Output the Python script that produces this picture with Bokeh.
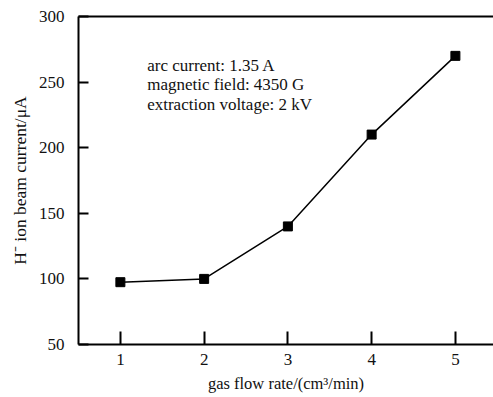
from bokeh.plotting import figure
from bokeh.models import Range1d, FixedTicker, LinearAxis, Label, ColumnDataSource
from bokeh.embed import file_html
from bokeh.resources import INLINE

gas_flow = [1, 2, 3, 4, 5]
beam_current = [97.5, 100, 140, 210, 270]
x_ticks = [1, 2, 3, 4, 5]
y_ticks = [50, 100, 150, 200, 250, 300]
notes = ["arc current: 1.35 A", "magnetic field: 4350 G", "extraction voltage: 2 kV"]
note_y = [262.7, 247.8, 232.9]

FONT = "Liberation Serif"

p = figure(width=493, height=397, output_backend="svg", toolbar_location=None,
           x_range=Range1d(0.5, 5.455), y_range=Range1d(50, 300),
           min_border_left=78, min_border_right=0, min_border_top=16, min_border_bottom=53)
p.grid.visible = False
p.outline_line_color = None
p.background_fill_color = "white"
p.border_fill_color = "white"

for ax in (p.xaxis[0], p.yaxis[0]):
    ax.axis_line_width = 2
    ax.axis_line_color = "black"
    ax.major_tick_line_width = 2
    ax.major_tick_line_color = "black"
    ax.minor_tick_line_color = None
    ax.major_tick_out = 0
    ax.major_label_text_font = FONT
    ax.major_label_text_font_size = "17px"
    ax.major_label_text_color = "#111111"
    ax.axis_label_text_font = FONT
    ax.axis_label_text_font_size = "16.5px"
    ax.axis_label_text_font_style = "normal"
    ax.axis_label_text_color = "#111111"

p.yaxis[0].axis_label_text_font_size = "17.5px"
p.xaxis[0].ticker = FixedTicker(ticks=x_ticks)
p.yaxis[0].ticker = FixedTicker(ticks=y_ticks)
p.xaxis[0].major_tick_in = 13
p.yaxis[0].major_tick_in = 10
p.xaxis[0].major_label_standoff = 9
p.yaxis[0].major_label_standoff = 14
p.xaxis[0].axis_label = "gas flow rate/(cm³/min)"
p.yaxis[0].axis_label = "H⁻ ion beam current/μA"
p.xaxis[0].axis_label_standoff = 6
p.yaxis[0].axis_label_standoff = 6

top = LinearAxis(ticker=FixedTicker(ticks=[]), axis_line_width=2, axis_line_color="black",
                 major_tick_line_color=None, minor_tick_line_color=None,
                 major_label_text_font_size="0px")
p.add_layout(top, "above")

src = ColumnDataSource(dict(x=gas_flow, y=beam_current))
p.line("x", "y", source=src, line_color="black", line_width=1.5)
p.scatter("x", "y", source=src, marker="square", size=9, fill_color="black", line_color="black")

for t, yv in zip(notes, note_y):
    p.add_layout(Label(x=1.32, y=yv, text=t, text_font=FONT, text_font_size="17px",
                       text_baseline="alphabetic", text_color="#111111"))

open("out.html", "w").write(file_html(p, INLINE))
